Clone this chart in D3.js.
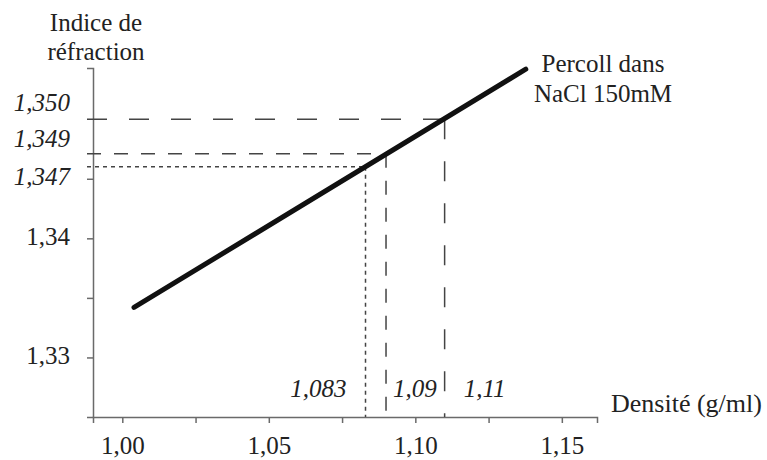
<!DOCTYPE html>
<html>
<head>
<meta charset="utf-8">
<script src="https://cdn.jsdelivr.net/npm/d3@7"></script>
<style>
  html, body { margin: 0; padding: 0; background: #fff; }
  text { font-family: "Liberation Serif", "Times New Roman", serif; fill: #222; }
</style>
</head>
<body>
<div id="chart"></div>
<script>
// Données
const lineDensity = [1.004, 1.1377];          // extrémités de la droite
const lineIndex = [1.3342, 1.3542];
const readDensity = [1.083, 1.09, 1.11];      // lectures sur la droite
const readIndex = [1.3460, 1.3471, 1.3500];
const readDensityLabels = ['1,083', '1,09', '1,11'];
const readIndexLabels = ['1,347', '1,349', '1,350'];
const xTicks = [1.00, 1.05, 1.10, 1.15];
const xTickLabels = ['1,00', '1,05', '1,10', '1,15'];
const xMinorTicks = [1.025, 1.075, 1.125];
const yTicks = [1.33, 1.34];
const yTickLabels = ['1,33', '1,34'];
const yMinorTicks = [1.335, 1.345];

// Dimensions
const width = 767;
const height = 460;
const plotLeft = 93, plotRight = 597, plotTop = 68, plotBottom = 417;

// Styles des pointillés pour chaque lecture
const dashes = ['4,4', '14,13', '20,22'];
const xLabelDx = [-19, 7, 19];
const xLabelAnchor = ['end', 'start', 'start'];
const yLabelDy = [18, -7, -8];

const svg = d3.select('#chart').append('svg')
    .attr('width', width)
    .attr('height', height);

const x = d3.scaleLinear().domain([0.99, 1.162]).range([plotLeft, plotRight]);
const y = d3.scaleLinear().domain([1.325, 1.3543]).range([plotBottom, plotTop]);

const fmtX = d => xTickLabels[xTicks.indexOf(d)];
const fmtY = d => yTickLabels[yTicks.indexOf(d)];

// Axe X
const gx = svg.append('g').attr('transform', `translate(0,${plotBottom})`);
gx.call(d3.axisBottom(x).tickValues(xTicks).tickFormat(fmtX).tickSizeOuter(0).tickSize(6).tickPadding(13));
gx.append('g').call(d3.axisBottom(x).tickValues(xMinorTicks).tickFormat('').tickSizeOuter(0).tickSize(6))
    .select('.domain').remove();

// Axe Y
const gy = svg.append('g').attr('transform', `translate(${plotLeft},0)`);
gy.call(d3.axisLeft(y).tickValues(yTicks).tickFormat(fmtY).tickSizeOuter(0).tickSize(6).tickPadding(17));
gy.append('g').call(d3.axisLeft(y).tickValues(yMinorTicks).tickFormat('').tickSizeOuter(0).tickSize(6))
    .select('.domain').remove();

svg.selectAll('.domain, .tick line')
    .attr('stroke', '#6a6a6a')
    .attr('stroke-width', 1.5);
svg.selectAll('.tick text')
    .style('font-family', '"Liberation Serif", serif')
    .style('font-size', '25px')
    .attr('fill', '#222');
gy.selectAll('.tick text').attr('dy', '0.25em');

// Lignes de lecture horizontales
svg.selectAll('.h-guide')
    .data(readDensity)
    .enter()
    .append('line')
    .attr('class', 'h-guide')
    .attr('x1', plotLeft - 6)
    .attr('x2', d => x(d))
    .attr('y1', (d, i) => y(readIndex[i]))
    .attr('y2', (d, i) => y(readIndex[i]))
    .attr('stroke', '#444')
    .attr('stroke-width', 1.5)
    .attr('stroke-dasharray', (d, i) => dashes[i]);

// Lignes de lecture verticales
svg.selectAll('.v-guide')
    .data(readDensity)
    .enter()
    .append('line')
    .attr('class', 'v-guide')
    .attr('x1', d => x(d))
    .attr('x2', d => x(d))
    .attr('y1', (d, i) => y(readIndex[i]))
    .attr('y2', plotBottom)
    .attr('stroke', '#444')
    .attr('stroke-width', 1.5)
    .attr('stroke-dasharray', (d, i) => dashes[i]);

// Droite d'étalonnage
svg.append('line')
    .attr('x1', x(lineDensity[0]))
    .attr('y1', y(lineIndex[0]))
    .attr('x2', x(lineDensity[1]))
    .attr('y2', y(lineIndex[1]))
    .attr('stroke', '#111')
    .attr('stroke-width', 5)
    .attr('stroke-linecap', 'round');

// Valeurs lues (italique)
svg.selectAll('.y-read')
    .data(readIndexLabels)
    .enter()
    .append('text')
    .attr('class', 'y-read')
    .attr('x', 70)
    .attr('y', (d, i) => y(readIndex[i]) + yLabelDy[i])
    .attr('text-anchor', 'end')
    .style('font-style', 'italic')
    .style('font-size', '25px')
    .text(d => d);

svg.selectAll('.x-read')
    .data(readDensityLabels)
    .enter()
    .append('text')
    .attr('class', 'x-read')
    .attr('x', (d, i) => x(readDensity[i]) + xLabelDx[i])
    .attr('y', 397)
    .attr('text-anchor', (d, i) => xLabelAnchor[i])
    .style('font-style', 'italic')
    .style('font-size', '25px')
    .text(d => d);

// Titres des axes
const yTitle = svg.append('text')
    .attr('text-anchor', 'middle')
    .style('font-size', '25px');
yTitle.append('tspan').attr('x', 96).attr('y', 31).text('Indice de');
yTitle.append('tspan').attr('x', 96).attr('y', 60).text('réfraction');

svg.append('text')
    .attr('x', 611)
    .attr('y', 412)
    .style('font-size', '26px')
    .text('Densité (g/ml)');

// Légende de la droite
const legend = svg.append('text')
    .attr('text-anchor', 'middle')
    .style('font-size', '25px');
legend.append('tspan').attr('x', 603).attr('y', 72).text('Percoll dans');
legend.append('tspan').attr('x', 603).attr('y', 102).text('NaCl 150mM');
</script>
</body>
</html>
